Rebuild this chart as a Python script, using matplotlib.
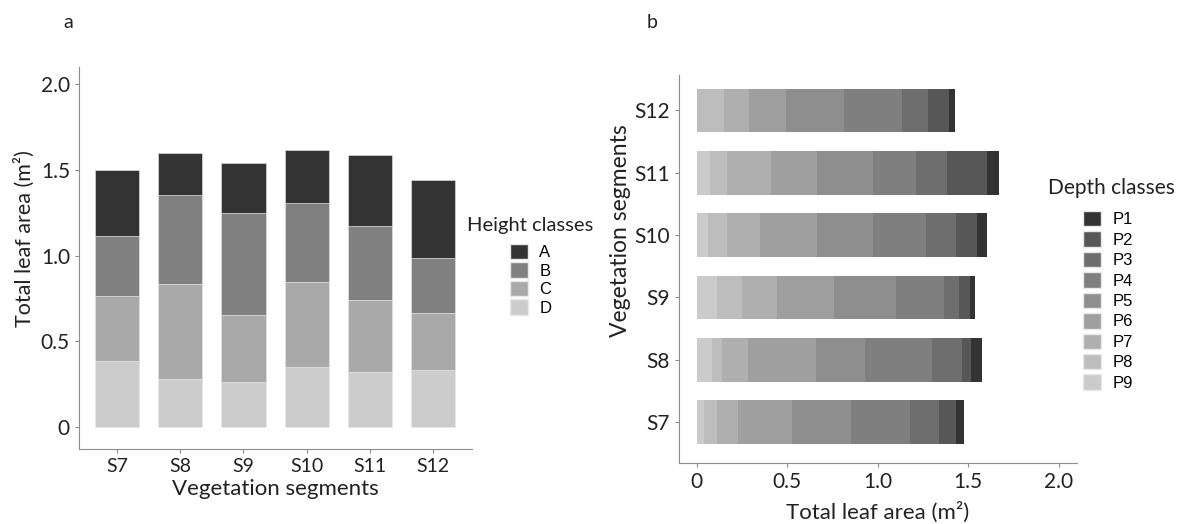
import matplotlib
matplotlib.use("Agg")
from matplotlib import pyplot as plt
from matplotlib.patches import Patch
import numpy as np

segments = ['S7', 'S8', 'S9', 'S10', 'S11', 'S12']

# panel a: leaf area per height class (m2)
height_classes = ['A', 'B', 'C', 'D']
hD = [0.386, 0.279, 0.261, 0.347, 0.322, 0.333]
hC = [0.376, 0.553, 0.390, 0.501, 0.421, 0.332]
hB = [0.351, 0.519, 0.599, 0.456, 0.428, 0.323]
hA = [0.387, 0.245, 0.292, 0.312, 0.414, 0.452]
height_colors = {'A': '#333333', 'B': '#808080', 'C': '#a9a9a9', 'D': '#cccccc'}

# panel b: leaf area per depth class (m2)
depth_classes = ['P1', 'P2', 'P3', 'P4', 'P5', 'P6', 'P7', 'P8', 'P9']
P9 = [0.040, 0.087, 0.110, 0.063, 0.074, 0.000]
P8 = [0.070, 0.051, 0.139, 0.107, 0.096, 0.149]
P7 = [0.120, 0.147, 0.197, 0.180, 0.240, 0.138]
P6 = [0.298, 0.372, 0.313, 0.317, 0.257, 0.207]
P5 = [0.326, 0.271, 0.340, 0.308, 0.308, 0.318]
P4 = [0.324, 0.374, 0.267, 0.293, 0.236, 0.322]
P3 = [0.162, 0.162, 0.084, 0.163, 0.174, 0.147]
P2 = [0.093, 0.050, 0.060, 0.120, 0.218, 0.116]
P1 = [0.046, 0.061, 0.026, 0.055, 0.068, 0.031]
depth_colors = ['#333333', '#575757', '#6e6e6e', '#7f7f7f', '#8e8e8e',
                '#9f9f9f', '#afafaf', '#bdbdbd', '#cbcbcb']

W, H = 1178, 524
tick_font = 'Lato'
axis_grey = '#8c8c8c'
txt = '#222222'

fig = plt.figure(figsize=(W / 100, H / 100), dpi=100)
fig.patch.set_facecolor('white')

# ---------- panel a ----------
ax1 = fig.add_axes([0.067, 0.143, 0.334, 0.729])
x = np.arange(len(segments))
bottom = np.zeros(len(segments))
for name, vals in [('D', hD), ('C', hC), ('B', hB), ('A', hA)]:
    ax1.bar(x, vals, width=0.7, bottom=bottom, color=height_colors[name],
            edgecolor='#e8e8e8', linewidth=0.4, label=name)
    bottom += np.array(vals)

ax1.set_xlim(-0.6, 5.62)
ax1.set_ylim(-0.13, 2.1)
ax1.set_xticks(x)
ax1.set_xticklabels(segments, fontsize=14, family=tick_font)
ax1.set_yticks([0, 0.5, 1.0, 1.5, 2.0])
ax1.set_yticklabels(['0', '0.5', '1.0', '1.5', '2.0'], fontsize=15, family=tick_font)
ax1.set_xlabel('Vegetation segments', fontsize=16, family=tick_font, labelpad=3, color=txt)
ax1.set_ylabel('Total leaf area (m²)', fontsize=15.5, family=tick_font, color=txt)
ax1.yaxis.set_label_coords(-0.112, 0.55)

handles_a = [Patch(facecolor=height_colors[c], edgecolor='#e8e8e8', label=c) for c in height_classes]
leg1 = fig.legend(handles=handles_a, loc='upper left',
                  bbox_to_anchor=(510 / W, 1 - 244 / H), frameon=False,
                  prop={'family': 'Liberation Sans', 'size': 12},
                  handlelength=1.05, handleheight=1.05, labelspacing=0.12,
                  handletextpad=0.7, borderpad=0, borderaxespad=0)
fig.text(530 / W, 1 - 225 / H, 'Height classes', fontsize=14.5, family=tick_font,
         ha='center', va='center', color=txt)

# ---------- panel b ----------
ax2 = fig.add_axes([0.576, 0.116, 0.338, 0.741])
y = np.arange(len(segments))
left = np.zeros(len(segments))
depth_vals = [P9, P8, P7, P6, P5, P4, P3, P2, P1]
for i, vals in enumerate(depth_vals):
    ax2.barh(y, vals, height=0.7, left=left, color=depth_colors[8 - i],
             edgecolor='none', label=depth_classes[8 - i])
    left += np.array(vals)

ax2.set_xlim(-0.1, 2.1)
ax2.set_ylim(-0.66, 5.57)
ax2.set_yticks(y)
ax2.set_yticklabels(segments, fontsize=15, family=tick_font)
ax2.set_xticks([0, 0.5, 1.0, 1.5, 2.0])
ax2.set_xticklabels(['0', '0.5', '1.0', '1.5', '2.0'], fontsize=15, family=tick_font)
ax2.set_xlabel('Total leaf area (m²)', fontsize=16, family=tick_font, labelpad=7, color=txt)
ax2.set_ylabel('Vegetation segments', fontsize=16.5, family=tick_font, color=txt)
ax2.yaxis.set_label_coords(-0.12, 0.6)

handles_b = [Patch(facecolor=depth_colors[i], edgecolor='#e8e8e8', label=depth_classes[i]) for i in range(9)]
leg2 = fig.legend(handles=handles_b, loc='upper left',
                  bbox_to_anchor=(1083 / W, 1 - 211 / H), frameon=False,
                  prop={'family': 'Liberation Sans', 'size': 12},
                  handlelength=1.05, handleheight=1.05, labelspacing=0.24,
                  handletextpad=0.7, borderpad=0, borderaxespad=0)
fig.text(1111 / W, 1 - 188 / H, 'Depth classes', fontsize=15, family=tick_font,
         ha='center', va='center', color=txt)

for ax in (ax1, ax2):
    ax.spines['top'].set_visible(False)
    ax.spines['right'].set_visible(False)
    ax.spines['left'].set_color(axis_grey)
    ax.spines['bottom'].set_color(axis_grey)
    ax.tick_params(colors=axis_grey, length=3, width=0.8, labelcolor=txt)

fig.text(68 / W, 1 - 22 / H, 'a', fontsize=14, family=tick_font, ha='center', va='center', color=txt)
fig.text(652 / W, 1 - 22 / H, 'b', fontsize=14, family=tick_font, ha='center', va='center', color=txt)

fig.savefig('out.png', dpi=100, facecolor='white')
